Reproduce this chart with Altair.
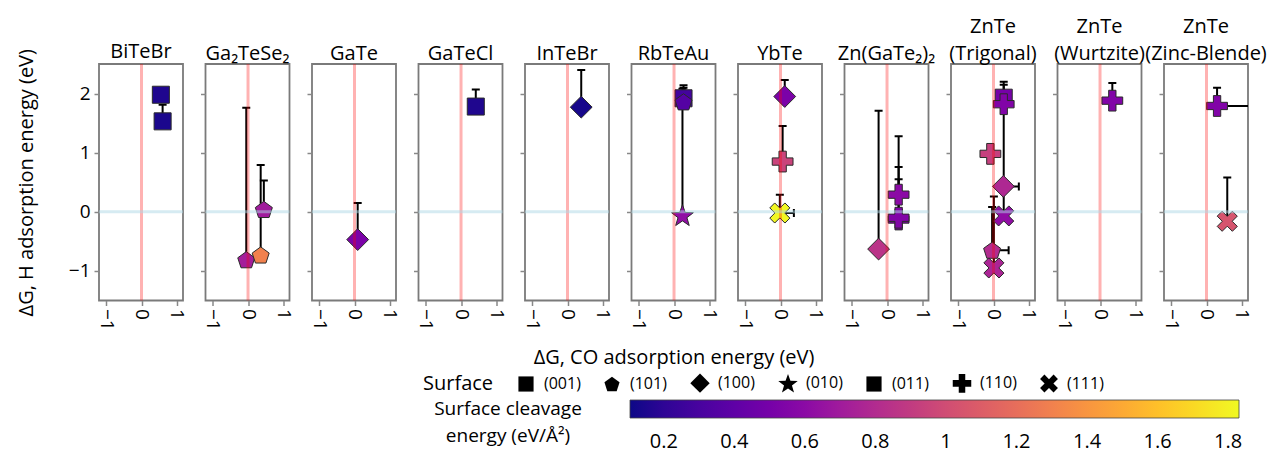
import math
import altair as alt
import pandas as pd

# ---------------- data ----------------
materials = [
    "BiTeBr", "BiTeBr",
    "Ga₂TeSe₂", "Ga₂TeSe₂", "Ga₂TeSe₂",
    "GaTe",
    "GaTeCl",
    "InTeBr",
    "RbTeAu", "RbTeAu", "RbTeAu",
    "YbTe", "YbTe", "YbTe",
    "Zn(GaTe₂)₂", "Zn(GaTe₂)₂", "Zn(GaTe₂)₂", "Zn(GaTe₂)₂",
    "ZnTe (Trigonal)", "ZnTe (Trigonal)", "ZnTe (Trigonal)", "ZnTe (Trigonal)",
    "ZnTe (Trigonal)", "ZnTe (Trigonal)", "ZnTe (Trigonal)",
    "ZnTe (Wurtzite)",
    "ZnTe (Zinc-Blende)", "ZnTe (Zinc-Blende)",
]
surfaces = [
    "(001)", "(011)",
    "(101)", "(101)", "(101)",
    "(100)",
    "(001)",
    "(100)",
    "(001)", "(101)", "(010)",
    "(100)", "(110)", "(111)",
    "(100)", "(110)", "(110)", "(110)",
    "(011)", "(110)", "(110)", "(100)", "(111)", "(101)", "(111)",
    "(110)",
    "(110)", "(111)",
]
co_energy = [
    0.55, 0.60,
    -0.05, 0.36, 0.45,
    0.09,
    0.42,
    0.39,
    0.27, 0.27, 0.24,
    0.12, 0.06, -0.02,
    -0.24, 0.33, 0.33, 0.33,
    0.29, 0.29, -0.09, 0.28, 0.29, -0.04, 0.01,
    0.35,
    0.30, 0.59,
]
h_energy = [
    1.98, 1.53,
    -0.81, -0.73, 0.04,
    -0.47,
    1.78,
    1.77,
    1.92, 1.86, -0.06,
    1.95, 0.85, -0.02,
    -0.63, 0.29, -0.13, -0.10,
    1.93, 1.82, 0.98, 0.43, -0.07, -0.65, -0.95,
    1.88,
    1.79, -0.16,
]
cleavage = [
    0.15, 0.14,
    0.72, 1.30, 0.70,
    0.52,
    0.15,
    0.13,
    0.28, 0.35, 0.62,
    0.52, 0.95, 1.82,
    0.85, 0.60, 0.55, 0.55,
    0.50, 0.55, 0.93, 0.78, 0.62, 0.80, 0.76,
    0.55,
    0.55, 1.05,
]
err_h = [
    None, 0.28,
    2.57, 1.52, 0.49,
    0.62,
    0.29,
    0.63,
    0.22, 0.24, 2.14,
    0.28, 0.60, 0.31,
    2.34, 0.99, 0.89, 0.65,
    0.22, 0.38, None, None, 1.97, 0.73, 1.21,
    0.30,
    0.31, 0.74,
]
err_co = [
    None, None,
    None, None, None,
    None,
    None,
    None,
    None, None, None,
    None, None, 0.40,
    None, None, None, None,
    None, None, None, 0.44, None, 0.47, None,
    None,
    1.00, None,
]

panels = [
    ("BiTeBr", ["BiTeBr"]),
    ("Ga₂TeSe₂", ["Ga₂TeSe₂"]),
    ("GaTe", ["GaTe"]),
    ("GaTeCl", ["GaTeCl"]),
    ("InTeBr", ["InTeBr"]),
    ("RbTeAu", ["RbTeAu"]),
    ("YbTe", ["YbTe"]),
    ("Zn(GaTe₂)₂", ["Zn(GaTe₂)₂"]),
    ("ZnTe (Trigonal)", ["ZnTe", "(Trigonal)"]),
    ("ZnTe (Wurtzite)", ["ZnTe", "(Wurtzite)"]),
    ("ZnTe (Zinc-Blende)", ["ZnTe", "(Zinc-Blende)"]),
]
surface_order = ["(001)", "(101)", "(100)", "(010)", "(011)", "(110)", "(111)"]
x_ticks = [-1, 0, 1]
y_ticks = [-1, 0, 1, 2]
cbar_ticks = [0.2, 0.4, 0.6, 0.8, 1.0, 1.2, 1.4, 1.6, 1.8]

df = pd.DataFrame({
    "material": materials,
    "surface": surfaces,
    "co": co_energy,
    "h": h_energy,
    "cleavage": cleavage,
    "eh": pd.array(err_h, dtype="Float64").astype(float),
    "eco": pd.array(err_co, dtype="Float64").astype(float),
})
df["h_top"] = df["h"] + df["eh"]
df["co_right"] = df["co"] + df["eco"]
zero_df = pd.DataFrame({"z": [0]})

# ---------------- marker shapes ----------------
def pts_path(pts):
    return "M" + "L".join(f"{x:.3f},{y:.3f}" for x, y in pts) + "Z"

square = pts_path([(-1, -1), (1, -1), (1, 1), (-1, 1)])
pentagon = pts_path([(1.05 * math.cos(math.radians(-90 + 72 * k)),
                      1.05 * math.sin(math.radians(-90 + 72 * k)) + 0.1) for k in range(5)])
diamond = pts_path([(-1.28, 0), (0, -1.28), (1.28, 0), (0, 1.28)])
star = pts_path([((1.35 if k % 2 == 0 else 0.55) * math.cos(math.radians(-90 + 36 * k)),
                  (1.35 if k % 2 == 0 else 0.55) * math.sin(math.radians(-90 + 36 * k)) + 0.1)
                 for k in range(10)])
e, w = 1.22, 0.43
plus = pts_path([(-e, -w), (-w, -w), (-w, -e), (w, -e), (w, -w), (e, -w),
                 (e, w), (w, w), (w, e), (-w, e), (-w, w), (-e, w)])
a, b = 0.58, 1.18
xshape = pts_path([(0, -a), (b - a, -b), (b, -(b - a)), (a, 0), (b, b - a), (b - a, b),
                   (0, a), (-(b - a), b), (-b, b - a), (-a, 0), (-b, -(b - a)), (-(b - a), -b)])
shape_range = [square, pentagon, diamond, star, square, plus, xshape]

FONT = "Open Sans"
xs = alt.Scale(domain=[-1.21, 1.18], nice=False, zero=False)
ys = alt.Scale(domain=[-1.5, 2.5], nice=False, zero=False)
cscale = alt.Scale(scheme="plasma", domain=[0.104, 1.831])
sscale = alt.Scale(domain=surface_order, range=shape_range)

clegend = alt.Legend(
    title=["Surface cleavage", "energy (eV/Å²)"], orient="none", legendX=335, legendY=336,
    direction="horizontal", gradientLength=609, gradientThickness=18,
    titleOrient="left", titleAlign="center", titleFontSize=19, titleFont=FONT,
    titleFontWeight="normal", titleColor="black", titlePadding=-26, titleLimit=400,
    titleLineHeight=27, titleBaseline="line-top",
    values=cbar_ticks, format="~g", labelFontSize=20, labelFont=FONT, labelColor="black",
    labelOffset=14, gradientStrokeColor="#444", gradientStrokeWidth=0.8,
)
slegend = alt.Legend(
    title="Surface", orient="none", legendX=324, legendY=311, direction="horizontal",
    titleOrient="left", titleFontSize=20, titleFont=FONT, titleFontWeight="normal",
    titleColor="black", titlePadding=24, titleBaseline="middle",
    labelFontSize=16, labelFont=FONT, labelColor="black", labelOffset=10,
    symbolSize=230, symbolFillColor="black", symbolStrokeColor="black",
    symbolStrokeWidth=0, columnPadding=23, columns=7,
)


def make_panel(i, mat, title_lines):
    xaxis = alt.Axis(
        values=x_ticks, format="~g", labelAngle=90, grid=False, domain=False,
        tickColor="#888", tickWidth=1.5, tickSize=5, labelFontSize=19, labelFont=FONT,
        labelColor="black", labelPadding=3,
        title="ΔG, CO adsorption energy (eV)" if i == 5 else None,
        titleFontSize=20, titleFont=FONT, titleFontWeight="normal", titleColor="black",
        titlePadding=17,
    )
    yaxis = alt.Axis(
        values=y_ticks, format="~g", grid=False, domain=False, tickColor="#888",
        tickWidth=1.5, tickSize=5, labels=(i == 0), labelFontSize=19, labelFont=FONT,
        labelColor="black", labelPadding=4,
        title="ΔG, H adsorption energy (eV)" if i == 0 else None,
        titleFontSize=20, titleFont=FONT, titleFontWeight="normal", titleColor="black",
        titlePadding=32,
    )
    X = lambda f: alt.X(f, type="quantitative", scale=xs, axis=xaxis)
    Y = lambda f: alt.Y(f, type="quantitative", scale=ys, axis=yaxis)

    base = alt.Chart(df).transform_filter(alt.FieldEqualPredicate(field="material", equal=mat))
    with_eh = base.transform_filter("isValid(datum.eh)")
    with_eco = base.transform_filter("isValid(datum.eco)")

    ebar_v = with_eh.mark_rule(color="black", strokeWidth=2, clip=True).encode(
        x=X("co"), y=Y("h"), y2=alt.Y2("h_top"))
    ecap_v = with_eh.mark_rule(color="black", strokeWidth=2, clip=True,
                               xOffset=-4, x2Offset=4).encode(
        x=X("co"), x2=alt.X2("co"), y=Y("h_top"))
    ebar_h = with_eco.mark_rule(color="black", strokeWidth=2, clip=True).encode(
        x=X("co"), x2=alt.X2("co_right"), y=Y("h"))
    ecap_h = with_eco.mark_rule(color="black", strokeWidth=2, clip=True,
                                yOffset=-4, y2Offset=4).encode(
        x=X("co_right"), y=Y("h"), y2=alt.Y2("h"))
    points = base.mark_point(filled=True, opacity=1, size=290, stroke="#2a2a2a",
                             strokeWidth=1, clip=True).encode(
        x=X("co"), y=Y("h"),
        color=alt.Color("cleavage:Q", scale=cscale, legend=clegend),
        shape=alt.Shape("surface:N", scale=sscale, legend=slegend),
    )
    vline = alt.Chart(zero_df).mark_rule(color="red", opacity=0.3, strokeWidth=3).encode(
        x=alt.datum(0))
    hline = alt.Chart(zero_df).mark_rule(color="#add8e6", opacity=0.5, strokeWidth=3).encode(
        y=alt.datum(0))

    return alt.layer(ebar_v, ecap_v, ebar_h, ecap_h, points, vline, hline).properties(
        width=84, height=236.5,
        title=alt.TitleParams(text=title_lines, fontSize=20, font=FONT, fontWeight="normal",
                              color="black", baseline="bottom", offset=2, anchor="middle",
                              lineHeight=27, dy=(35 if i == 0 else 23)),
    )


chart = alt.hconcat(
    *[make_panel(i, m, t) for i, (m, t) in enumerate(panels)],
    spacing=22.5, bounds="flush",
).properties(
    autosize=alt.AutoSizeParams(type="none"),
    padding={"left": 99, "top": 64, "right": 1169, "bottom": 388},
).configure(
    font=FONT,
).configure_view(
    stroke="#7a7a7a", strokeWidth=1.8,
)

chart.save("out.html", embed_options={"renderer": "svg", "actions": False})
